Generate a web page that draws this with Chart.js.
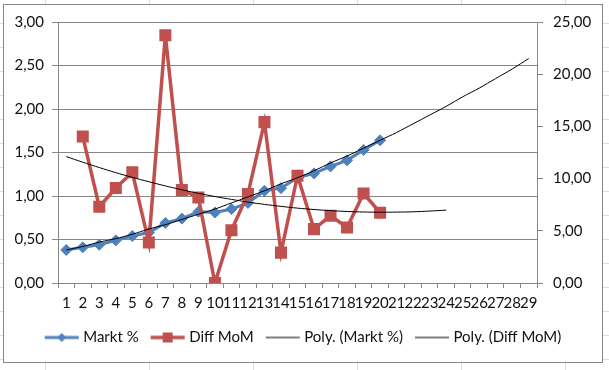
<!DOCTYPE html>
<html lang="de">
<head>
    <meta charset="UTF-8">
    <title>Markt % / Diff MoM</title>
    <script src="https://cdn.jsdelivr.net/npm/chart.js@4.4.0/dist/chart.umd.min.js"></script>
    <style>
        html, body {
            margin: 0;
            padding: 0;
            width: 609px;
            height: 370px;
            overflow: hidden;
        }
        body {
            position: relative;
            background-color: #fff;
            /* excel sheet cells behind the chart */
            background-image: linear-gradient(to right, #dadcdd 1px, transparent 1px),
                              linear-gradient(to bottom, #dadcdd 1px, transparent 1px);
            background-size: 104px 24px;
            background-position: 45px 23px;
        }
        .chart-box {
            position: absolute;
            left: 3px;
            top: 4px;
            width: 598px;
            height: 357px;
            background: #fff;
            border: 1px solid #868686;
        }
        canvas {
            position: absolute;
            left: 0;
            top: 0;
        }
    </style>
</head>
<body>
    <div class="chart-box"></div>
    <canvas id="chart" width="609" height="370"></canvas>

    <script>
        // categories 1..29 (trendline forecast stretches the axis)
        const categories = ['1','2','3','4','5','6','7','8','9','10','11','12','13','14','15',
                            '16','17','18','19','20','21','22','23','24','25','26','27','28','29'];

        // left axis
        const marktValues = [0.38, 0.41, 0.44, 0.49, 0.54, 0.58, 0.69, 0.74, 0.82, 0.81,
                             0.85, 0.92, 1.06, 1.09, 1.21, 1.26, 1.34, 1.41, 1.53, 1.64];
        // right axis (no value for month 1)
        const diffValues = [null, 14.03, 7.31, 9.10, 10.60, 3.87, 23.74, 8.91, 8.20, 0.00,
                            5.06, 8.53, 15.41, 2.91, 10.28, 5.16, 6.44, 5.32, 8.58, 6.73];

        // trendlines
        const marktTrend = [0.38, 0.42, 0.47, 0.51, 0.56, 0.62, 0.67, 0.73, 0.79, 0.85,
                            0.92, 0.99, 1.06, 1.14, 1.21, 1.29, 1.38, 1.46, 1.55, 1.64,
                            1.73, 1.83, 1.93, 2.03, 2.14, 2.24, 2.35, 2.46, 2.58];
        const diffTrend = [12.11, 11.57, 11.06, 10.57, 10.12, 9.70, 9.30, 8.93, 8.59, 8.28,
                           8.01, 7.75, 7.53, 7.34, 7.17, 7.04, 6.93, 6.85, 6.80, 6.78,
                           6.79, 6.82, 6.89, 6.98];

        const seriesNames = ['Markt %', 'Diff MoM', 'Poly. (Markt %)', 'Poly. (Diff MoM)'];

        const blue = '#4F81BD';
        const red = '#C0504D';
        const gridColor = '#868686';
        const textColor = '#111';

        Chart.defaults.font.family = 'Lato, "Liberation Sans", sans-serif';
        Chart.defaults.font.size = 15;
        Chart.defaults.color = textColor;

        function commaFmt(v) {
            return Number(v).toFixed(2).replace('.', ',');
        }

        // little line+marker pictures for the legend
        function legendIcon(color, width, marker) {
            const c = document.createElement('canvas');
            c.width = 36;
            c.height = 14;
            const g = c.getContext('2d');
            g.strokeStyle = color;
            g.lineWidth = width;
            g.beginPath();
            g.moveTo(1, 7);
            g.lineTo(35, 7);
            g.stroke();
            g.fillStyle = color;
            if (marker === 'diamond') {
                g.beginPath();
                g.moveTo(18, 2.5);
                g.lineTo(22.5, 7);
                g.lineTo(18, 11.5);
                g.lineTo(13.5, 7);
                g.closePath();
                g.fill();
            } else if (marker === 'square') {
                g.fillRect(13, 2, 10, 10);
            }
            return c;
        }

        const icons = [
            legendIcon(blue, 3, 'diamond'),
            legendIcon(red, 3.5, 'square'),
            legendIcon('#000', 1, null),
            legendIcon('#000', 1, null)
        ];

        const ctx = document.getElementById('chart').getContext('2d');
        new Chart(ctx, {
            type: 'line',
            data: {
                labels: categories,
                datasets: [
                    {
                        label: seriesNames[0],
                        data: marktValues,
                        yAxisID: 'y',
                        borderColor: blue,
                        backgroundColor: blue,
                        borderWidth: 3,
                        pointStyle: 'rectRot',
                        pointRadius: 5.5,
                        pointBorderWidth: 1,
                        order: 3
                    },
                    {
                        label: seriesNames[1],
                        data: diffValues,
                        yAxisID: 'y1',
                        borderColor: red,
                        backgroundColor: red,
                        borderWidth: 3.5,
                        pointStyle: 'rect',
                        pointRadius: 8.5,
                        pointBorderWidth: 0,
                        order: 2
                    },
                    {
                        label: seriesNames[2],
                        data: marktTrend,
                        yAxisID: 'y',
                        borderColor: '#000',
                        borderWidth: 1,
                        pointRadius: 0,
                        tension: 0.3,
                        order: 1
                    },
                    {
                        label: seriesNames[3],
                        data: diffTrend,
                        yAxisID: 'y1',
                        borderColor: '#000',
                        borderWidth: 1,
                        pointRadius: 0,
                        tension: 0.3,
                        order: 0
                    }
                ]
            },
            options: {
                responsive: false,
                animation: false,
                devicePixelRatio: 1,
                layout: {
                    padding: { left: 0, right: 0, top: 22, bottom: 15 }
                },
                plugins: {
                    tooltip: { enabled: false },
                    legend: {
                        position: 'bottom',
                        labels: {
                            usePointStyle: true,
                            pointStyleWidth: 28,
                            padding: 15,
                            color: textColor,
                            generateLabels: function(chart) {
                                return seriesNames.map(function(name, i) {
                                    return {
                                        text: name,
                                        pointStyle: icons[i],
                                        datasetIndex: i,
                                        hidden: false,
                                        lineWidth: 0,
                                        fontColor: textColor
                                    };
                                });
                            }
                        }
                    }
                },
                scales: {
                    x: {
                        offset: true,
                        afterFit: function(scale) { scale.height = scale.height - 3; },
                        grid: {
                            offset: true,
                            drawOnChartArea: false,
                            drawTicks: true,
                            tickLength: 5,
                            color: gridColor
                        },
                        border: { display: true, color: gridColor },
                        ticks: {
                            autoSkip: false,
                            maxRotation: 0,
                            minRotation: 0,
                            padding: 6
                        }
                    },
                    y: {
                        position: 'left',
                        min: 0,
                        max: 3,
                        afterFit: function(scale) { scale.width = 58; },
                        grid: { color: gridColor, tickLength: 6 },
                        border: { display: true, color: gridColor },
                        ticks: { stepSize: 0.5, padding: 8, callback: commaFmt }
                    },
                    y1: {
                        position: 'right',
                        min: 0,
                        max: 25,
                        afterFit: function(scale) { scale.width = 72; },
                        grid: { drawOnChartArea: false, color: gridColor, tickLength: 6 },
                        border: { display: true, color: gridColor },
                        ticks: { stepSize: 5, padding: 10, callback: commaFmt }
                    }
                }
            }
        });
    </script>
</body>
</html>
